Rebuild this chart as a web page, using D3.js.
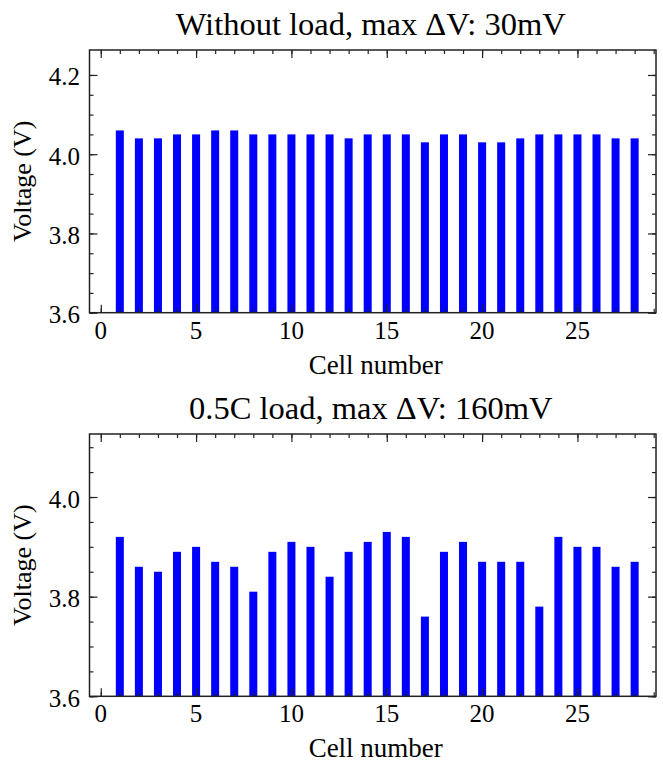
<!DOCTYPE html>
<html>
<head>
<meta charset="utf-8">
<script src="https://cdn.jsdelivr.net/npm/d3@7"></script>
<style>
  html, body { margin: 0; padding: 0; background: #fff; }
  svg { display: block; }
  svg text { font-family: "Times New Roman", "Liberation Serif", "Nimbus Roman", "DejaVu Serif", serif; fill: #000; }
</style>
</head>
<body>
<svg id="chart" width="663" height="762"></svg>
<script>
// ---- data ----
const cells = d3.range(1, 29);
const noLoadVoltages = [4.06, 4.04, 4.04, 4.05, 4.05, 4.06, 4.06, 4.05, 4.05, 4.05,
                        4.05, 4.05, 4.04, 4.05, 4.05, 4.05, 4.03, 4.05, 4.05, 4.03,
                        4.03, 4.04, 4.05, 4.05, 4.05, 4.05, 4.04, 4.04];
const halfCVoltages = [3.92, 3.86, 3.85, 3.89, 3.90, 3.87, 3.86, 3.81, 3.89, 3.91,
                       3.90, 3.84, 3.89, 3.91, 3.93, 3.92, 3.76, 3.89, 3.91, 3.87,
                       3.87, 3.87, 3.78, 3.92, 3.90, 3.90, 3.86, 3.87];
const titles = ["Without load, max \u0394V: 30mV", "0.5C load, max \u0394V: 160mV"];
const xTickLabels = [0, 5, 10, 15, 20, 25];
const yTicksTop = [3.6, 3.8, 4.0, 4.2];
const yTicksBottom = [3.6, 3.8, 4.0];
const xLabel = "Cell number";
const yLabel = "Voltage (V)";

const svg = d3.select("#chart");
const FONT = "'Times New Roman', 'Liberation Serif', 'Nimbus Roman', 'DejaVu Serif', serif";

const panels = [
  { values: noLoadVoltages, title: titles[0], yTicks: yTicksTop, top: 50, bottom: 312.7 },
  { values: halfCVoltages, title: titles[1], yTicks: yTicksBottom, top: 434, bottom: 696.3 }
];

const left = 89.5, right = 656;
const barWidth = 0.42;

panels.forEach(p => {
  const g = svg.append("g");
  const x = d3.scaleLinear().domain([-0.59, 29.12]).range([left, right]);
  const yMax = d3.max(p.values) * 1.05;
  const y = d3.scaleLinear().domain([3.6, yMax]).range([p.bottom, p.top]);

  // bars
  g.selectAll("rect.bar").data(cells).join("rect")
    .attr("class", "bar")
    .attr("x", d => x(d - barWidth / 2))
    .attr("width", x(barWidth) - x(0))
    .attr("y", (d, i) => y(p.values[i]))
    .attr("height", (d, i) => y(3.6) - y(p.values[i]))
    .attr("fill", "#0000ff");

  const minorX = d3.range(0, 30);
  const minorY = d3.range(0, 13).map(i => +(3.6 + i * 0.05).toFixed(2)).filter(v => v <= yMax);
  const tickColor = "#222";

  const xb = d3.axisBottom(x).tickValues(xTickLabels).tickSize(-8).tickFormat("");
  const xbm = d3.axisBottom(x).tickValues(minorX).tickSize(-4).tickFormat("");
  const xt = d3.axisTop(x).tickValues(xTickLabels).tickSize(-8).tickFormat("");
  const xtm = d3.axisTop(x).tickValues(minorX).tickSize(-4).tickFormat("");
  const yl = d3.axisLeft(y).tickValues(p.yTicks).tickSize(-8).tickFormat("");
  const ylm = d3.axisLeft(y).tickValues(minorY).tickSize(-4).tickFormat("");
  const yr = d3.axisRight(y).tickValues(p.yTicks).tickSize(-8).tickFormat("");
  const yrm = d3.axisRight(y).tickValues(minorY).tickSize(-4).tickFormat("");

  [[xb, `translate(0,${p.bottom})`], [xbm, `translate(0,${p.bottom})`],
   [xt, `translate(0,${p.top})`], [xtm, `translate(0,${p.top})`],
   [yl, `translate(${left},0)`], [ylm, `translate(${left},0)`],
   [yr, `translate(${right},0)`], [yrm, `translate(${right},0)`]].forEach(([ax, tr]) => {
    const a = g.append("g").attr("transform", tr).call(ax);
    a.select(".domain").remove();
    a.selectAll("line").attr("stroke", tickColor).attr("stroke-width", 1.2);
  });

  // frame
  g.append("rect")
    .attr("x", left).attr("y", p.top)
    .attr("width", right - left).attr("height", p.bottom - p.top)
    .attr("fill", "none").attr("stroke", "#222").attr("stroke-width", 1.5);

  // tick labels
  g.selectAll("text.xtl").data(xTickLabels).join("text")
    .attr("class", "xtl")
    .attr("x", d => x(d)).attr("y", p.bottom + 26)
    .attr("text-anchor", "middle").attr("font-size", 25)
    .style("font-family", FONT)
    .text(d => d);
  g.selectAll("text.ytl").data(p.yTicks).join("text")
    .attr("class", "ytl")
    .attr("x", left - 9.5).attr("y", d => y(d) + 10.5)
    .attr("text-anchor", "end").attr("font-size", 25)
    .style("font-family", FONT)
    .text(d => d.toFixed(1));

  // labels
  g.append("text")
    .attr("x", (left + right) / 2 + 3).attr("y", p.bottom + 61)
    .attr("text-anchor", "middle").attr("font-size", 27)
    .style("font-family", FONT)
    .text(xLabel);
  g.append("text")
    .attr("transform", `translate(31,${(p.top + p.bottom) / 2}) rotate(-90)`)
    .attr("text-anchor", "middle").attr("font-size", 26)
    .style("font-family", FONT)
    .text(yLabel);
  g.append("text")
    .attr("x", (left + right) / 2 - 2).attr("y", p.top - 15)
    .attr("text-anchor", "middle").attr("font-size", 32.5)
    .style("font-family", FONT)
    .text(p.title);
});
</script>
</body>
</html>
